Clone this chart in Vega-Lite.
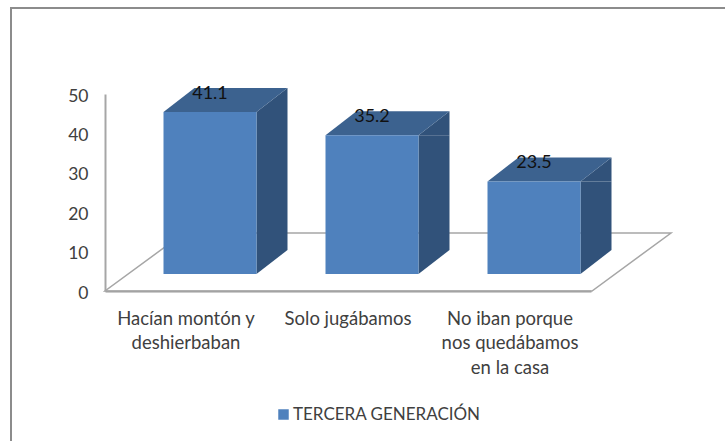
{
"$schema":"https://vega.github.io/schema/vega-lite/v6.json",
"width":486,"height":197,
"autosize":{"type":"none"},
"padding":{"left":105,"top":94,"right":134,"bottom":150},
"background":"white",
"config":{"view":{"stroke":null},"font":"Lato"},
"data":{"values":[
{"categoria":"Hacían montón y deshierbaban","valor":41.1,"serie":"TERCERA GENERACIÓN"},
{"categoria":"Solo jugábamos","valor":35.2,"serie":"TERCERA GENERACIÓN"},
{"categoria":"No iban porque nos quedábamos en la casa","valor":23.5,"serie":"TERCERA GENERACIÓN"}
]},
"encoding":{
"x":{"field":"categoria","type":"nominal","title":null,
"scale":{"type":"band","paddingInner":0,"paddingOuter":0,"domain":["Hacían montón y deshierbaban","Solo jugábamos","No iban porque nos quedábamos en la casa"]},
"axis":{"labelAngle":0,"ticks":false,"domainColor":"#9a9a9a","domainWidth":2,"labelColor":"#404040","labelFontSize":18.5,"labelFont":"Lato","labelPadding":27,"labelLineHeight":24.5,"labelBaseline":"middle","labelLimit":200,
"labelExpr":"datum.label == 'Hacían montón y deshierbaban' ? ['Hacían montón y','deshierbaban'] : datum.label == 'No iban porque nos quedábamos en la casa' ? ['No iban porque','nos quedábamos','en la casa'] : datum.label"}},
"y":{"field":"valor","type":"quantitative","title":null,
"scale":{"domain":[0,50],"nice":false},
"axis":{"values":[0,10,20,30,40,50],"grid":false,"ticks":false,"domainColor":"#a6a6a6","domainWidth":2,"labelColor":"#404040","labelFontSize":17.5,"labelFont":"Lato","labelPadding":17,"labelOffset":2}}
},
"layer":[
{"data":{"values":[{"categoria":"Hacían montón y deshierbaban","valor":50}]},
"mark":{"type":"point","shape":"M-175,350 L-175,-86 L545,-86","filled":false,"stroke":"#8c8c8c","strokeWidth":2,"size":4,"opacity":1}},
{"data":{"values":[{"categoria":"Solo jugábamos","valor":0}]},
"mark":{"type":"point","shape":"M-243,0 L244,0 L323,-58 L-164,-58 Z","filled":false,"stroke":"#a6a6a6","strokeWidth":1.5,"size":4,"opacity":1}},
{"mark":{"type":"bar","size":31,"xOffset":86,"yOffset":-17,"y2Offset":-41,"color":"#31527A"},"encoding":{"y2":{"datum":0}}},
{"mark":{"type":"point","shape":"M46.5,0 L77.5,-24 L77.5,0 Z","filled":true,"color":"#31527A","size":4,"opacity":1,"xOffset":24,"yOffset":-17}},
{"mark":{"type":"point","shape":"M46.5,0 L46.5,-24 L77.5,-24 Z","filled":true,"color":"#31527A","size":4,"opacity":1,"xOffset":24,"yOffset":-17},"encoding":{"y":{"datum":0}}},
{"mark":{"type":"point","shape":"M-46.5,0 L46.5,0 L77.5,-24 L-15.5,-24 Z","filled":true,"color":"#3C628F","size":4,"opacity":1,"xOffset":24,"yOffset":-17}},
{"mark":{"type":"bar","size":93,"xOffset":24,"yOffset":-17,"y2Offset":-17},
"encoding":{"y2":{"datum":0},
"color":{"field":"serie","type":"nominal","scale":{"range":["#4F81BD"]},
"legend":{"title":null,"orient":"none","legendX":170,"legendY":312,"symbolType":"square","symbolSize":110,"labelFont":"Lato","labelFontSize":17,"labelColor":"#404040","labelOffset":1,"labelLimit":300}}}},
{"mark":{"type":"text","dx":24,"dy":-35,"fontSize":18,"font":"Lato","color":"#111111","baseline":"middle","align":"center"},
"encoding":{"text":{"field":"valor","type":"quantitative","format":".1f"}}}
]
}
